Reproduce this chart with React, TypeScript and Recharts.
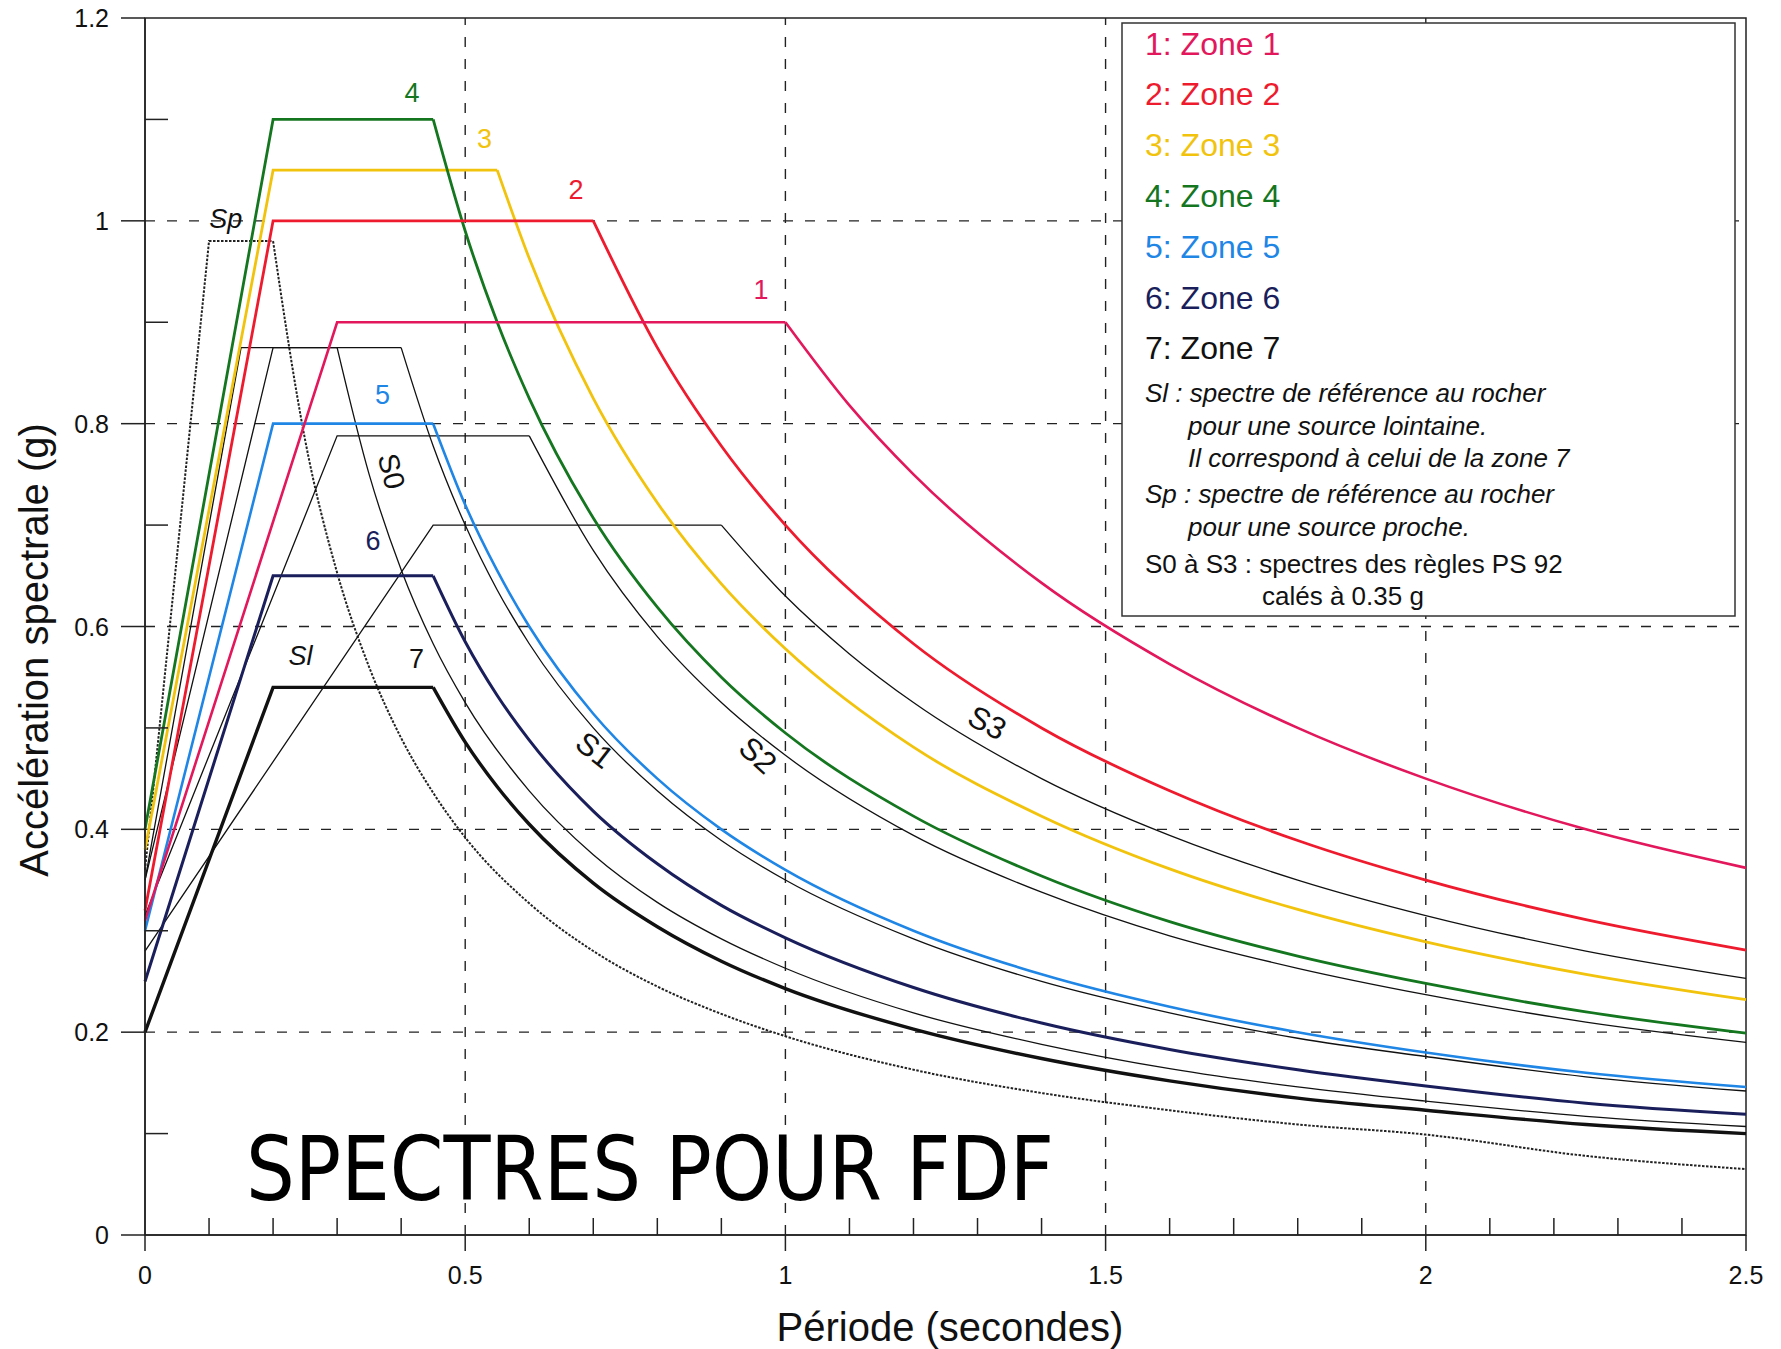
import React from "react";
import {
  LineChart,
  Line,
  XAxis,
  YAxis,
  ReferenceLine,
  ReferenceArea,
  ReferenceDot,
} from "recharts";

const W = 1781;
const H = 1349;
const FONT = "'Liberation Sans', Arial, sans-serif";

// Period (s) / spectral acceleration (g).
// Points 0..2 are start, end of the rise and end of the plateau; the rest is the decay branch.
const ZONE1_T = [0, 0.3, 1.0, 1.1, 1.2, 1.4, 1.6, 1.8, 2.0, 2.25, 2.5];
const ZONE1_G = [0.31, 0.9, 0.9, 0.818, 0.75, 0.643, 0.563, 0.5, 0.45, 0.4, 0.362];

const ZONE2_T = [0, 0.2, 0.7, 0.8, 0.9, 1.0, 1.2, 1.4, 1.6, 1.8, 2.0, 2.25, 2.5];
const ZONE2_G = [0.32, 1.0, 1.0, 0.875, 0.778, 0.7, 0.583, 0.5, 0.438, 0.389, 0.35, 0.311, 0.281];

const ZONE3_T = [0, 0.2, 0.55, 0.6, 0.7, 0.8, 0.9, 1.0, 1.2, 1.4, 1.6, 1.8, 2.0, 2.25, 2.5];
const ZONE3_G = [0.38, 1.05, 1.05, 0.963, 0.825, 0.722, 0.642, 0.578, 0.481, 0.413, 0.361, 0.321, 0.289, 0.257, 0.232];

// zones 4 to 7 share the same periods
const ZONE47_T = [0, 0.2, 0.45, 0.5, 0.55, 0.6, 0.7, 0.8, 0.9, 1.0, 1.2, 1.4, 1.6, 1.8, 2.0, 2.25, 2.5];
const ZONE4_G = [0.4, 1.1, 1.1, 0.99, 0.9, 0.825, 0.707, 0.619, 0.55, 0.495, 0.413, 0.354, 0.309, 0.275, 0.248, 0.22, 0.199];
const ZONE5_G = [0.3, 0.8, 0.8, 0.72, 0.655, 0.6, 0.514, 0.45, 0.4, 0.36, 0.3, 0.257, 0.225, 0.2, 0.18, 0.16, 0.146];
const ZONE6_G = [0.25, 0.65, 0.65, 0.585, 0.532, 0.488, 0.418, 0.366, 0.325, 0.293, 0.244, 0.209, 0.183, 0.163, 0.147, 0.13, 0.119];
const ZONE7_G = [0.2, 0.54, 0.54, 0.486, 0.442, 0.405, 0.347, 0.304, 0.27, 0.243, 0.203, 0.174, 0.152, 0.135, 0.123, 0.109, 0.1];

// PS 92 spectra
const S0_T = [0, 0.15, 0.3, 0.35, 0.4, 0.45, 0.5, 0.6, 0.7, 0.8, 0.9, 1.0, 1.2, 1.4, 1.6, 1.8, 2.0, 2.25, 2.5];
const S0_G = [0.35, 0.875, 0.875, 0.75, 0.656, 0.583, 0.525, 0.438, 0.375, 0.328, 0.292, 0.263, 0.219, 0.188, 0.164, 0.146, 0.132, 0.117, 0.107];

const S1_T = [0, 0.2, 0.4, 0.45, 0.5, 0.55, 0.6, 0.7, 0.8, 0.9, 1.0, 1.2, 1.4, 1.6, 1.8, 2.0, 2.25, 2.5];
const S1_G = [0.35, 0.875, 0.875, 0.778, 0.7, 0.636, 0.583, 0.5, 0.438, 0.389, 0.35, 0.292, 0.25, 0.219, 0.194, 0.176, 0.156, 0.142];

const S2_T = [0, 0.3, 0.6, 0.7, 0.8, 0.9, 1.0, 1.2, 1.4, 1.6, 1.8, 2.0, 2.25, 2.5];
const S2_G = [0.315, 0.788, 0.788, 0.675, 0.59, 0.525, 0.473, 0.394, 0.338, 0.295, 0.263, 0.237, 0.21, 0.19];

const S3_T = [0, 0.45, 0.9, 1.0, 1.1, 1.2, 1.4, 1.6, 1.8, 2.0, 2.25, 2.5];
const S3_G = [0.28, 0.7, 0.7, 0.63, 0.573, 0.525, 0.45, 0.394, 0.35, 0.315, 0.28, 0.253];

// near-source rock spectrum
const SP_T = [0, 0.1, 0.2, 0.25, 0.3, 0.35, 0.4, 0.45, 0.5, 0.6, 0.7, 0.8, 0.9, 1.0, 1.2, 1.4, 1.6, 1.8, 2.0, 2.25, 2.5];
const SP_G = [0.36, 0.98, 0.98, 0.784, 0.653, 0.56, 0.49, 0.436, 0.392, 0.327, 0.28, 0.245, 0.218, 0.196, 0.163, 0.14, 0.123, 0.109, 0.099, 0.078, 0.065];

// all tick positions; the labelled (major) ones are listed separately
const X_TICKS = [0, 0.1, 0.2, 0.3, 0.4, 0.5, 0.6, 0.7, 0.8, 0.9, 1, 1.1, 1.2, 1.3, 1.4, 1.5, 1.6, 1.7, 1.8, 1.9, 2, 2.1, 2.2, 2.3, 2.4, 2.5];
const X_MAJOR = [0, 0.5, 1, 1.5, 2, 2.5];
const Y_TICKS = [0, 0.1, 0.2, 0.3, 0.4, 0.5, 0.6, 0.7, 0.8, 0.9, 1, 1.1, 1.2];
const Y_MAJOR = [0, 0.2, 0.4, 0.6, 0.8, 1, 1.2];
const GRID_X = [0.5, 1, 1.5, 2];
const GRID_Y = [0.2, 0.4, 0.6, 0.8, 1];

const C = {
  z1: "#e2175c",
  z2: "#ee1b2e",
  z3: "#f2c30c",
  z4: "#14761f",
  z5: "#1f86e6",
  z6: "#1a1f5c",
  ink: "#111",
};

const SERIES = [
  { key: "sp", t: SP_T, g: SP_G, color: "#222", width: 2, dash: "2.5 1.5" },
  { key: "s0", t: S0_T, g: S0_G, color: C.ink, width: 1.3 },
  { key: "s1", t: S1_T, g: S1_G, color: C.ink, width: 1.3 },
  { key: "s2", t: S2_T, g: S2_G, color: C.ink, width: 1.3 },
  { key: "s3", t: S3_T, g: S3_G, color: C.ink, width: 1.3 },
  { key: "z7", t: ZONE47_T, g: ZONE7_G, color: C.ink, width: 3.4 },
  { key: "z6", t: ZONE47_T, g: ZONE6_G, color: C.z6, width: 3 },
  { key: "z5", t: ZONE47_T, g: ZONE5_G, color: C.z5, width: 2.6 },
  { key: "z3", t: ZONE3_T, g: ZONE3_G, color: C.z3, width: 2.8 },
  { key: "z4", t: ZONE47_T, g: ZONE4_G, color: C.z4, width: 2.8 },
  { key: "z2", t: ZONE2_T, g: ZONE2_G, color: C.z2, width: 2.8 },
  { key: "z1", t: ZONE1_T, g: ZONE1_G, color: C.z1, width: 2.6 },
];

// curve tags, placed in data units
const TAGS = [
  { text: "4", t: 0.417, g: 1.126, color: C.z4 },
  { text: "3", t: 0.53, g: 1.081, color: C.z3 },
  { text: "2", t: 0.673, g: 1.03, color: C.z2 },
  { text: "1", t: 0.962, g: 0.932, color: C.z1 },
  { text: "Sp", t: 0.126, g: 1.002, color: C.ink, italic: true },
  { text: "5", t: 0.371, g: 0.828, color: C.z5 },
  { text: "S0", t: 0.385, g: 0.753, color: C.ink, angle: 76, size: 29 },
  { text: "6", t: 0.356, g: 0.684, color: C.z6 },
  { text: "Sl", t: 0.243, g: 0.571, color: C.ink, italic: true },
  { text: "7", t: 0.424, g: 0.568, color: C.ink },
  { text: "S1", t: 0.702, g: 0.478, color: C.ink, angle: 38, size: 31 },
  { text: "S2", t: 0.957, g: 0.473, color: C.ink, angle: 42, size: 31 },
  { text: "S3", t: 1.315, g: 0.505, color: C.ink, angle: 28, size: 31 },
];

const LEGEND_ZONES = [
  { text: "1: Zone 1", color: C.z1 },
  { text: "2: Zone 2", color: C.z2 },
  { text: "3: Zone 3", color: C.z3 },
  { text: "4: Zone 4", color: C.z4 },
  { text: "5: Zone 5", color: C.z5 },
  { text: "6: Zone 6", color: C.z6 },
  { text: "7: Zone 7", color: C.ink },
];

const LEGEND_NOTES = [
  { text: "Sl : spectre de référence au rocher", indent: 0, italic: true },
  { text: "pour une source lointaine.", indent: 1, italic: true },
  { text: "Il correspond à celui de la zone 7", indent: 1, italic: true },
  { text: "Sp : spectre de référence au rocher", indent: 0, italic: true },
  { text: "pour une source proche.", indent: 1, italic: true },
  { text: "S0 à S3 : spectres des règles PS 92", indent: 0, italic: false },
  { text: "calés à 0.35 g", indent: 2, italic: false },
];
const NOTE_Y = [373, 406, 438, 474, 507, 544, 576];
const INDENT_X = [23, 66, 140];

const toPoints = (t: number[], g: number[]) => t.map((x, i) => ({ t: x, g: g[i] }));
const fmt = (v: number) => String(v);

const INK = "#222";
const X_TICK_LEN = 16;
const X_TICK_GAP = 15;
const Y_TICK_LEN = 24;
const Y_TICK_GAP = 12;

// labelled ticks point outwards, the unlabelled ones point into the plot
const XTick = (props: any) => {
  const { x, y, payload } = props;
  const ay = y - X_TICK_LEN - X_TICK_GAP;
  const major = X_MAJOR.includes(payload.value);
  return (
    <g>
      <line
        x1={x}
        x2={x}
        y1={ay}
        y2={major ? ay + X_TICK_LEN : ay - 17}
        stroke={INK}
        strokeWidth={1.5}
      />
      {major && (
        <text x={x} y={y} dy="0.72em" textAnchor="middle" fontSize={25} fill="#111" fontFamily={FONT}>
          {fmt(payload.value)}
        </text>
      )}
    </g>
  );
};

const YTick = (props: any) => {
  const { x, y, payload } = props;
  const ax = x + Y_TICK_LEN + Y_TICK_GAP;
  const major = Y_MAJOR.includes(payload.value);
  return (
    <g>
      <line
        x1={major ? ax - Y_TICK_LEN : ax}
        x2={major ? ax : ax + 23}
        y1={y}
        y2={y}
        stroke={INK}
        strokeWidth={1.5}
      />
      {major && (
        <text x={x} y={y} dy="0.36em" textAnchor="end" fontSize={25} fill="#111" fontFamily={FONT}>
          {fmt(payload.value)}
        </text>
      )}
    </g>
  );
};

const CurveTag = (props: any) => {
  const { cx, cy, tag } = props;
  if (cx == null || cy == null) return <g />;
  return (
    <text
      x={cx}
      y={cy}
      textAnchor="middle"
      dominantBaseline="central"
      fill={tag.color}
      fontSize={tag.size || 27}
      fontStyle={tag.italic ? "italic" : "normal"}
      fontFamily={FONT}
      transform={tag.angle ? `rotate(${tag.angle} ${cx} ${cy})` : undefined}
    >
      {tag.text}
    </text>
  );
};

const axisStroke = { stroke: INK, strokeWidth: 1.5 };

export default function App() {
  return (
    <div style={{ position: "relative", width: W, height: H, background: "#fff" }}>
      <style>{"body{margin:0}"}</style>
      <LineChart width={W} height={H} margin={{ top: 18, right: 35, bottom: 64, left: 0 }}>
        <XAxis
          dataKey="t"
          type="number"
          domain={[0, 2.5]}
          ticks={X_TICKS}
          interval={0}
          height={50}
          tickSize={X_TICK_LEN}
          tickMargin={X_TICK_GAP}
          axisLine={axisStroke}
          tickLine={false}
          tick={XTick}
        />
        <YAxis
          type="number"
          domain={[0, 1.2]}
          ticks={Y_TICKS}
          interval={0}
          width={145}
          tickSize={Y_TICK_LEN}
          tickMargin={Y_TICK_GAP}
          axisLine={axisStroke}
          tickLine={false}
          tick={YTick}
        />
        <ReferenceArea x1={0} x2={2.5} y1={0} y2={1.2} fill="none" stroke={INK} strokeWidth={1.5} />
        {GRID_X.map((x) => (
          <ReferenceLine key={`gx${x}`} x={x} stroke={INK} strokeWidth={1.4} strokeDasharray="10 12" />
        ))}
        {GRID_Y.map((y) => (
          <ReferenceLine key={`gy${y}`} y={y} stroke={INK} strokeWidth={1.4} strokeDasharray="10 12" />
        ))}
        {SERIES.flatMap((s) => {
          const pts = toPoints(s.t, s.g);
          const common = {
            dataKey: "g",
            stroke: s.color,
            strokeWidth: s.width,
            strokeDasharray: s.dash,
            dot: false,
            activeDot: false,
            isAnimationActive: false,
          };
          return [
            <Line key={`${s.key}-rise`} {...common} data={pts.slice(0, 3)} type="linear" />,
            <Line key={`${s.key}-decay`} {...common} data={pts.slice(2)} type="monotone" />,
          ];
        })}
        {TAGS.map((tag) => (
          <ReferenceDot
            key={`tag-${tag.text}`}
            x={tag.t}
            y={tag.g}
            r={0}
            shape={(p: any) => <CurveTag cx={p.cx} cy={p.cy} tag={tag} />}
          />
        ))}
      </LineChart>

      <svg
        width={W}
        height={H}
        style={{ position: "absolute", left: 0, top: 0, pointerEvents: "none" }}
      >
        <text
          x={246}
          y={1200}
          fontFamily="'DejaVu Sans Condensed', 'DejaVu Sans', sans-serif"
          fontSize={89}
          textLength={808}
          lengthAdjust="spacingAndGlyphs"
          fill="#000"
        >
          SPECTRES POUR FDF
        </text>
        <text x={950} y={1341} textAnchor="middle" fontSize={40} fontFamily={FONT} fill="#111">
          Période (secondes)
        </text>
        <text
          transform="translate(48 650) rotate(-90)"
          textAnchor="middle"
          fontSize={40}
          fontFamily={FONT}
          fill="#111"
        >
          Accélération spectrale (g)
        </text>

        <g transform="translate(1122 20)">
          <rect x={0} y={3} width={613} height={593} fill="#fff" stroke="#333" strokeWidth={1.5} />
          {LEGEND_ZONES.map((z, i) => (
            <text
              key={z.text}
              x={23}
              y={23 + i * 50.8 + 11.5}
              fontSize={32}
              fontFamily={FONT}
              fill={z.color}
            >
              {z.text}
            </text>
          ))}
          {LEGEND_NOTES.map((n, i) => (
            <text
              key={n.text}
              x={INDENT_X[n.indent]}
              y={NOTE_Y[i] + 9}
              fontSize={26}
              fontStyle={n.italic ? "italic" : "normal"}
              fontFamily={FONT}
              fill="#111"
            >
              {n.text}
            </text>
          ))}
        </g>
      </svg>
    </div>
  );
}
